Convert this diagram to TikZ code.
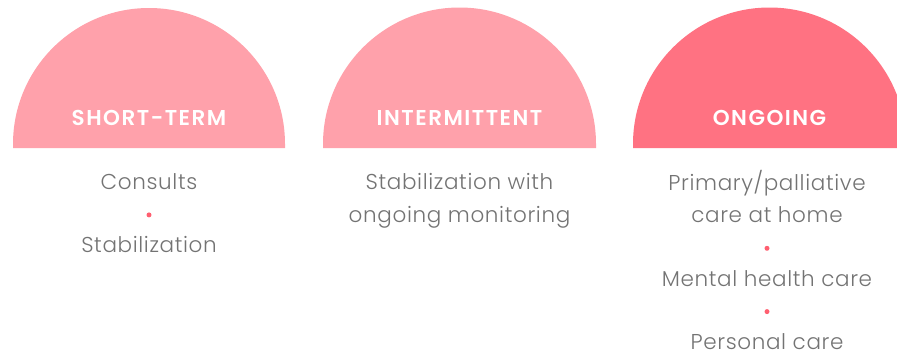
\documentclass[tikz,border=0pt]{standalone}
\usepackage{fontspec}
\setmainfont{Poppins}[UprightFont={* Light}, BoldFont={* SemiBold}]
\usetikzlibrary{positioning}
\definecolor{palepink}{RGB}{255,161,171}
\definecolor{deeppink}{RGB}{255,114,130}
\definecolor{bodygray}{RGB}{115,115,115}
\definecolor{dotpink}{RGB}{255,95,112}
\tikzset{
  heading/.style={text=white, font=\bfseries\fontsize{21.5}{22}\selectfont\addfontfeatures{LetterSpace=7}},
  item/.style={text=bodygray, font=\fontsize{21.5}{24}\selectfont\addfontfeatures{LetterSpace=3}, inner sep=0pt,
    text height=14pt, text depth=5pt},
  bullet/.style={circle, fill=dotpink, inner sep=0pt, minimum size=5pt},
  node distance=21pt
}
\begin{document}
\begin{tikzpicture}[x=1pt,y=1pt]
	\useasboundingbox (0,0) rectangle (897,-356);
	\clip (0,0) rectangle (897,-356);
	
	% half discs
	\fill[palepink] (13,-148) -- (13,-144) arc[start angle=180,end angle=0,radius=136] -- (285,-148) -- cycle;
	\fill[palepink] (323,-148) -- (323,-144) arc[start angle=180,end angle=0,radius=136.5] -- (596,-148) -- cycle;
	\fill[deeppink] (633,-148) -- (633,-144) arc[start angle=180,end angle=0,radius=136.5] -- (906,-148) -- cycle;
	
	\node[heading] (shortterm) at (149,-118) {SHORT-TERM};
	\node[heading] (intermittent) at (459.5,-118) {INTERMITTENT};
	\node[heading] (ongoing) at (769.5,-118) {ONGOING};
	
	% short-term
	\node[item] (consults) at (149,-185) {Consults};
	\node[bullet, below=17.5pt of consults] (dotA) {};
	\node[item, below=of dotA] (stabilization) {Stabilization};
	
	% intermittent
	\node[item] (stabwith) at (459.5,-185) {Stabilization with};
	\node[item, below=14pt of stabwith] (monitoring) {ongoing monitoring};
	
	% ongoing
	\node[item] (primary) at (767,-186) {Primary/palliative};
	\node[item, below=13pt of primary] (athome) {care at home};
	\node[bullet, below=17.5pt of athome] (dotB) {};
	\node[item, below=of dotB] (mental) {Mental health care};
	\node[bullet, below=17.5pt of mental] (dotC) {};
	\node[item, below=of dotC] (personal) {Personal care};
\end{tikzpicture}
\end{document}
